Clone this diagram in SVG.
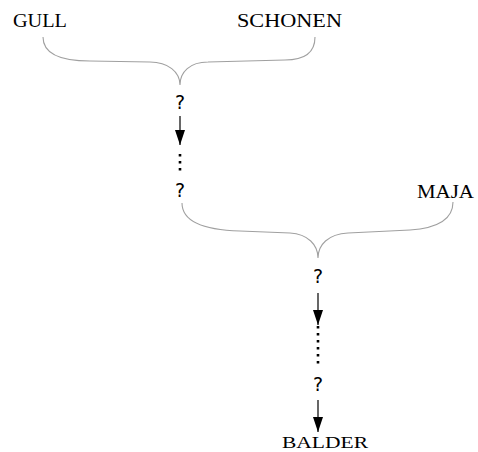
<svg xmlns="http://www.w3.org/2000/svg" width="478" height="452" viewBox="0 0 478 452">
  <defs>
    <style>
      .name { font-family: "Liberation Serif", "DejaVu Serif", serif; font-size: 18px; fill: #000; }
      .q { font-family: "DejaVu Sans", "Liberation Sans", sans-serif; font-size: 19px; fill: #000; text-anchor: middle; }
      .brace { fill: none; stroke: #a0a0a0; stroke-width: 1.1; }
      .link { fill: none; stroke: #000; stroke-width: 1.2; }
      .dots { fill: none; stroke: #000; stroke-width: 2.6; stroke-dasharray: 2.6 4.4; }
    </style>
    <marker id="head" viewBox="0 0 15 10" refX="15" refY="5" markerWidth="15" markerHeight="10" markerUnits="userSpaceOnUse" orient="auto">
      <path d="M0,0 L15,5 L0,10 Z" fill="#000"/>
    </marker>
  </defs>

  <g id="gull"><text class="name" x="13" y="27" textLength="54" lengthAdjust="spacingAndGlyphs">GULL</text></g>
  <g id="schonen"><text class="name" x="237" y="27" textLength="105" lengthAdjust="spacingAndGlyphs">SCHONEN</text></g>
  <g id="maja"><text class="name" x="417" y="198" textLength="57" lengthAdjust="spacingAndGlyphs">MAJA</text></g>
  <g id="balder"><text class="name" x="282" y="448" style="font-size:17px" textLength="86" lengthAdjust="spacingAndGlyphs">BALDER</text></g>

  <g id="q1"><text class="q" x="180" y="109">?</text></g>
  <g id="q2"><text class="q" x="180" y="197">?</text></g>
  <g id="q3"><text class="q" x="318" y="283">?</text></g>
  <g id="q4"><text class="q" x="318" y="391">?</text></g>

  <g id="connectors">
    <!-- braces joining parents -->
    <path class="brace" d="M43,37 C43,52 58,61 90,61 L150,62 C168,62 180,72 180,85 C180,72 190,62 208,62 L285,60 C305,60 315,52 315,37"/>
    <path class="brace" d="M182,203 C182,222 205,230 240,231 L290,233 C308,234 318,245 318,258 C318,245 328,234 348,233 L410,230 C440,228 453,218 453,202"/>
    <!-- descent arrows -->
    <path class="link" d="M180,116 L180,145" marker-end="url(#head)"/>
    <path class="link" d="M318,293 L318,325" marker-end="url(#head)"/>
    <path class="link" d="M318,400 L318,432" marker-end="url(#head)"/>
    <!-- elided generations -->
    <path class="dots" d="M180,154 L180,172"/>
    <path class="dots" d="M318,326 L318,364"/>
  </g>
</svg>
